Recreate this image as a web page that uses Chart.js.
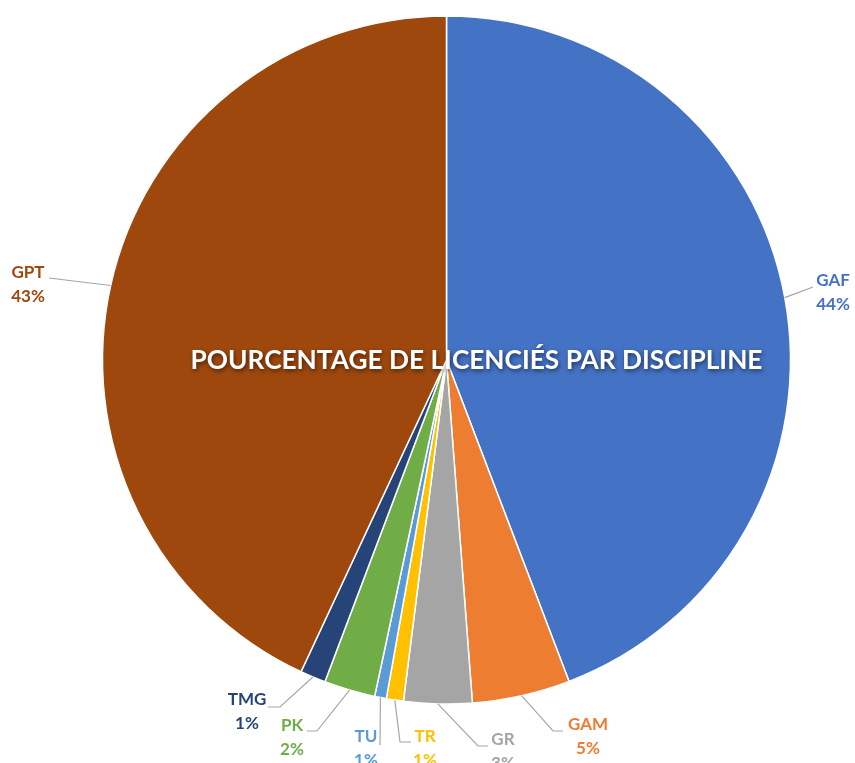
<!DOCTYPE html>
<html>
<head>
<meta charset="utf-8">
<script src="https://cdn.jsdelivr.net/npm/chart.js@4/dist/chart.umd.min.js"></script>
<style>
  html, body { margin: 0; padding: 0; background: #ffffff; }
  #wrap { width: 855px; height: 763px; position: relative; }
</style>
</head>
<body>
<div id="wrap"><canvas id="c" width="855" height="763"></canvas></div>
<script>
// ---- data ----
const categories = ['GAF', 'GAM', 'GR', 'TR', 'TU', 'PK', 'TMG', 'GPT'];
const percentValues = [44.2, 4.6, 3.2, 0.8, 0.55, 2.4, 1.2, 43.05];
const sliceColors = ['#4472C4', '#ED7D31', '#A5A5A5', '#FFC000', '#5B9BD5', '#70AD47', '#264478', '#9E480E'];
const chartTitle = 'POURCENTAGE DE LICENCIÉS PAR DISCIPLINE';

// ---- label layout (text centre, optional elbow) ----
const labelLayout = {
  GAF: { x: 833, y: 281, elbow: [813, 287], end: [813, 287] },
  GAM: { x: 588, y: 725, elbow: [553, 731], end: [563, 731] },
  GR:  { x: 503, y: 740, elbow: [478, 746], end: [488, 746] },
  TR:  { x: 425, y: 737, elbow: [400, 742], end: [411, 742] },
  TU:  { x: 366, y: 737, elbow: [380, 745], end: [380, 745] },
  PK:  { x: 292, y: 726, elbow: [317, 731], end: [307, 731] },
  TMG: { x: 247, y: 700, elbow: [280, 707], end: [268, 707] },
  GPT: { x: 28,  y: 273, elbow: [49, 278], end: [49, 278] }
};

const labelPlugin = {
  id: 'outLabels',
  afterDraw(chart) {
    const ctx = chart.ctx;
    const meta = chart.getDatasetMeta(0);
    const ds = chart.data.datasets[0];
    ctx.save();
    meta.data.forEach((arc, i) => {
      const cat = chart.data.labels[i];
      const L = labelLayout[cat];
      const p = arc.getProps(['x', 'y', 'startAngle', 'endAngle', 'outerRadius'], true);
      const mid = (p.startAngle + p.endAngle) / 2;
      const ax = p.x + Math.cos(mid) * p.outerRadius;
      const ay = p.y + Math.sin(mid) * p.outerRadius;
      ctx.strokeStyle = '#A6A6A6';
      ctx.lineWidth = 1.2;
      ctx.beginPath();
      ctx.moveTo(ax, ay);
      ctx.lineTo(L.elbow[0], L.elbow[1]);
      ctx.lineTo(L.end[0], L.end[1]);
      ctx.stroke();
      ctx.fillStyle = sliceColors[i];
      ctx.font = 'bold 17px Lato';
      ctx.textAlign = 'center';
      ctx.textBaseline = 'middle';
      ctx.fillText(cat, L.x, L.y);
      ctx.fillText(Math.round(ds.data[i]) + '%', L.x, L.y + 24);
    });
    // title
    const cx = meta.data[0].x, cy = meta.data[0].y;
    ctx.font = 'bold 22px Lato';
    let w = ctx.measureText(chartTitle).width;
    const size = 22 * 572 / w;
    ctx.font = 'bold ' + size.toFixed(2) + 'px Lato';
    ctx.textAlign = 'center';
    ctx.textBaseline = 'middle';
    ctx.shadowColor = 'rgba(0,0,0,0.55)';
    ctx.shadowBlur = 4;
    ctx.shadowOffsetX = 1;
    ctx.shadowOffsetY = 2;
    ctx.fillStyle = '#ffffff';
    ctx.fillText(chartTitle, cx + 30, cy + 1);
    ctx.restore();
  }
};

new Chart(document.getElementById('c'), {
  type: 'pie',
  data: {
    labels: categories,
    datasets: [{
      data: percentValues,
      backgroundColor: sliceColors,
      borderColor: '#ffffff',
      borderWidth: 1.5
    }]
  },
  options: {
    responsive: false,
    animation: false,
    radius: 344,
    layout: { padding: { left: 102, right: 64, top: 16, bottom: 59 } },
    plugins: {
      legend: { display: false },
      tooltip: { enabled: false },
      title: { display: false }
    }
  },
  plugins: [labelPlugin]
});
</script>
</body>
</html>
